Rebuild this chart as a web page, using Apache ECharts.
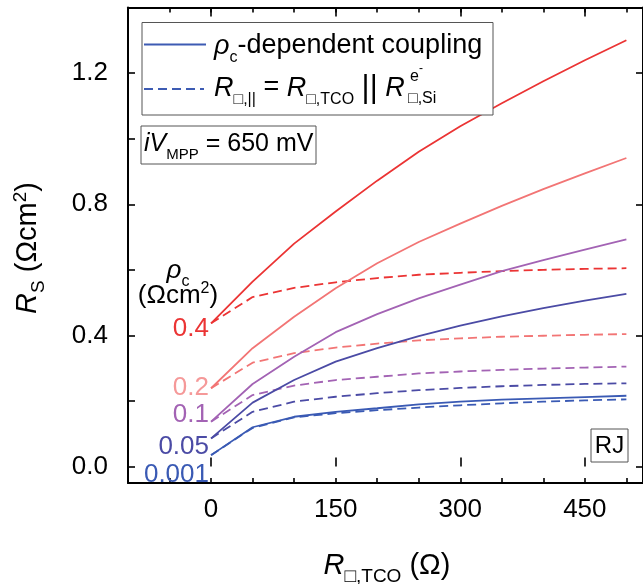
<!DOCTYPE html>
<html>
<head>
<meta charset="utf-8">
<script src="https://cdn.jsdelivr.net/npm/echarts@6/dist/echarts.min.js"></script>
<style>
  html, body { margin: 0; padding: 0; background: #fff; }
  #chart { width: 643px; height: 584px; }
</style>
</head>
<body>
<div id="chart"></div>
<script>
// Sheet resistance of the TCO (Ω) at which the series resistance was evaluated
const sheetResistance = [0, 50, 100, 150, 200, 250, 300, 350, 400, 450, 500];

// Contact resistivities ρc (Ωcm²) and their colours
const rhoLabels = ['0.4', '0.2', '0.1', '0.05', '0.001'];
const rhoColors = ['#eb3434', '#f27575', '#a363b4', '#4b4ba5', '#3a5ab4'];
const rhoLabelColors = ['#eb3434', '#f59999', '#a363b4', '#4b4ba5', '#3a5ab4'];

// R_S (Ωcm²) with ρc-dependent coupling (solid lines)
const coupling04 = [0.437, 0.564, 0.680, 0.778, 0.872, 0.960, 1.038, 1.108, 1.175, 1.239, 1.300];
const coupling02 = [0.239, 0.361, 0.457, 0.544, 0.620, 0.685, 0.741, 0.795, 0.846, 0.894, 0.941];
const coupling01 = [0.137, 0.252, 0.335, 0.410, 0.465, 0.513, 0.555, 0.596, 0.630, 0.662, 0.693];
const coupling005 = [0.086, 0.195, 0.264, 0.320, 0.361, 0.398, 0.430, 0.458, 0.483, 0.506, 0.527];
const coupling0001 = [0.035, 0.120, 0.152, 0.167, 0.178, 0.190, 0.198, 0.204, 0.208, 0.212, 0.216];

// R_S (Ωcm²) with the parallel sheet resistance model (dashed lines)
const parallel04 = [0.437, 0.517, 0.545, 0.562, 0.575, 0.585, 0.591, 0.596, 0.600, 0.603, 0.605];
const parallel02 = [0.239, 0.317, 0.346, 0.363, 0.375, 0.385, 0.391, 0.396, 0.399, 0.402, 0.404];
const parallel01 = [0.137, 0.218, 0.247, 0.264, 0.274, 0.284, 0.290, 0.295, 0.299, 0.302, 0.305];
const parallel005 = [0.086, 0.167, 0.198, 0.213, 0.224, 0.233, 0.240, 0.245, 0.249, 0.252, 0.254];
const parallel0001 = [0.035, 0.118, 0.150, 0.163, 0.172, 0.180, 0.187, 0.193, 0.198, 0.202, 0.205];

// Axis ticks and labels
const xLabelValues = [0, 150, 300, 450];
const xMinorTicks = [-100, -50, 0, 50, 100, 150, 200, 250, 300, 350, 400, 450, 500];
const yLabelValues = [0, 0.4, 0.8, 1.2];
const yTickValues = [0, 0.2, 0.4, 0.6, 0.8, 1.0, 1.2];

const FONT = '"Liberation Sans", Arial, Helvetica, sans-serif';
const X_MIN = -100, X_MAX = 520, Y_MIN = -0.05, Y_MAX = 1.4;

const couplingSets = [coupling04, coupling02, coupling01, coupling005, coupling0001];
const parallelSets = [parallel04, parallel02, parallel01, parallel005, parallel0001];

const pairs = arr => sheetResistance.map((x, i) => [x, arr[i]]);

const series = [];
rhoLabels.forEach((rho, k) => {
  series.push({
    name: 'coupling ' + rho, type: 'line', xAxisIndex: 0, yAxisIndex: 0,
    data: pairs(couplingSets[k]), symbol: 'none', smooth: false, z: 3,
    lineStyle: { color: rhoColors[k], width: 1.8, type: 'solid' }
  });
  series.push({
    name: 'parallel ' + rho, type: 'line', xAxisIndex: 0, yAxisIndex: 0,
    data: pairs(parallelSets[k]), symbol: 'none', smooth: false, z: 3,
    lineStyle: { color: rhoColors[k], width: 1.8, type: [9, 5] }
  });
});

const frameLine = { show: true, onZero: false, lineStyle: { color: '#000', width: 2 } };
const tickStyle = { color: '#000', width: 1.6 };

const baseX = (extra) => Object.assign({
  type: 'value', min: X_MIN, max: X_MAX, splitLine: { show: false }
}, extra);
const baseY = (extra) => Object.assign({
  type: 'value', min: Y_MIN, max: Y_MAX, splitLine: { show: false }
}, extra);

// rich text styles: body text, italic symbols, subscripts and superscripts
function richSet(size, subSize) {
  return {
    n: { fontFamily: FONT, fontSize: size, color: '#000', lineHeight: size + 4, verticalAlign: 'middle' },
    i: { fontFamily: FONT, fontSize: size, color: '#000', fontStyle: 'italic', lineHeight: size + 4, verticalAlign: 'middle' },
    sub: { fontFamily: FONT, fontSize: subSize, color: '#000', lineHeight: subSize, verticalAlign: 'bottom', padding: [0, 0, -4, 0] },
    sup: { fontFamily: FONT, fontSize: subSize, color: '#000', lineHeight: subSize, verticalAlign: 'top' },
    bar: { fontFamily: FONT, fontSize: size + 4, color: '#000', lineHeight: size + 4, verticalAlign: 'middle' }
  };
}
const richBody = richSet(26, 16);
const richBox = richSet(25, 15);
const richLegend = richSet(27, 16);
const richTitle = richSet(29, 19);

const graphics = [
  // y axis title
  { type: 'text', x: 28, y: 248, rotation: Math.PI / 2, z: 10,
    style: { text: '{i|R}{sub|S}{n| (Ωcm}{sup|2}{n|)}', rich: richTitle, align: 'center', verticalAlign: 'middle' } },
  // x axis title
  { type: 'text', x: 387, y: 566, z: 10,
    style: { text: '{i|R}{sub|□,TCO}{n| (Ω)}', rich: richTitle, align: 'center', verticalAlign: 'middle' } },
  // legend box
  { type: 'rect', shape: { x: 142, y: 22.5, width: 351, height: 92.5 }, z: 10,
    style: { fill: '#fff', stroke: '#555', lineWidth: 1 } },
  { type: 'line', shape: { x1: 144, y1: 44.5, x2: 206, y2: 44.5 }, z: 11,
    style: { stroke: '#3d5bb3', lineWidth: 1.8 } },
  { type: 'line', shape: { x1: 144, y1: 89, x2: 204, y2: 89 }, z: 11,
    style: { stroke: '#3d5bb3', lineWidth: 1.8, lineDash: [9, 5] } },
  { type: 'text', x: 214, y: 46, z: 11,
    style: { text: '{i|ρ}{sub|c}{n|-dependent coupling}', rich: richLegend, align: 'left', verticalAlign: 'middle' } },
  { type: 'text', x: 214, y: 88, z: 11,
    style: { text: '{i|R}{sub|□,||}{n| = }{i|R}{sub|□,TCO}{n| }{bar|||}{n| }{i|R}', rich: richLegend, align: 'left', verticalAlign: 'middle' } },
  { type: 'text', x: 410, y: 77, z: 11,
    style: { text: 'e', fontFamily: FONT, fontSize: 16, fill: '#000', align: 'left', verticalAlign: 'middle' } },
  { type: 'text', x: 419, y: 69, z: 11,
    style: { text: '-', fontFamily: FONT, fontSize: 12, fill: '#000', align: 'left', verticalAlign: 'middle' } },
  { type: 'text', x: 408, y: 99, z: 11,
    style: { text: '□,Si', fontFamily: FONT, fontSize: 16, fill: '#000', align: 'left', verticalAlign: 'middle' } },
  // operating point box
  { type: 'rect', shape: { x: 141, y: 126, width: 175, height: 38 }, z: 10,
    style: { fill: '#fff', stroke: '#555', lineWidth: 1 } },
  { type: 'text', x: 144, y: 144, z: 11,
    style: { text: '{i|iV}{sub|MPP}{n| = 650 mV}', rich: richBox, align: 'left', verticalAlign: 'middle' } },
  // RJ box
  { type: 'rect', shape: { x: 591, y: 429, width: 37, height: 33 }, z: 10,
    style: { fill: '#fff', stroke: '#555', lineWidth: 1 } },
  { type: 'text', x: 609.5, y: 446, z: 11,
    style: { text: 'RJ', fontFamily: FONT, fontSize: 24, fill: '#000', align: 'center', verticalAlign: 'middle' } },
  // ρc heading
  { type: 'text', x: 178, y: 271, z: 11,
    style: { text: '{i|ρ}{sub|c}', rich: richBody, align: 'center', verticalAlign: 'middle' } },
  { type: 'text', x: 178, y: 296, z: 11,
    style: { text: '{n|(Ωcm}{sup|2}{n|)}', rich: richBody, align: 'center', verticalAlign: 'middle' } }
];

// ρc value labels beside the curve starts
const rhoLabelY = [329, 388, 415, 447, 475];
rhoLabels.forEach((rho, k) => {
  graphics.push({
    type: 'text', x: 209, y: rhoLabelY[k], z: 11,
    style: { text: rho, fontFamily: FONT, fontSize: 26, fill: rhoLabelColors[k], align: 'right', verticalAlign: 'middle' }
  });
});

const option = {
  animation: false,
  backgroundColor: '#fff',
  grid: [
    { left: 128, top: 7.5, width: 516, height: 475.5, containLabel: false },
    { left: 128, top: 7.5, width: 516, height: 475.5, containLabel: false }
  ],
  xAxis: [
    baseX({ gridIndex: 0, position: 'bottom', axisLine: frameLine,
      axisTick: { show: true, inside: true, length: 5, customValues: xMinorTicks, lineStyle: tickStyle },
      axisLabel: { show: true, customValues: xLabelValues, fontFamily: FONT, fontSize: 26, color: '#000', margin: 14 } }),
    baseX({ gridIndex: 0, position: 'top', axisLine: frameLine,
      axisTick: { show: true, inside: true, length: 5, customValues: xMinorTicks, lineStyle: tickStyle },
      axisLabel: { show: false } }),
    baseX({ gridIndex: 1, position: 'bottom', axisLine: { show: false },
      axisTick: { show: true, inside: true, length: 9, customValues: xLabelValues, lineStyle: tickStyle },
      axisLabel: { show: false } }),
    baseX({ gridIndex: 1, position: 'top', axisLine: { show: false },
      axisTick: { show: true, inside: true, length: 9, customValues: xLabelValues, lineStyle: tickStyle },
      axisLabel: { show: false } })
  ],
  yAxis: [
    baseY({ gridIndex: 0, position: 'left', axisLine: frameLine,
      axisTick: { show: true, inside: true, length: 7, customValues: yTickValues, lineStyle: tickStyle },
      axisLabel: { show: true, customValues: yLabelValues, formatter: v => v.toFixed(1),
        fontFamily: FONT, fontSize: 26, color: '#000', margin: 20 } }),
    baseY({ gridIndex: 0, position: 'right', axisLine: frameLine,
      axisTick: { show: true, inside: true, length: 7, customValues: yLabelValues, lineStyle: tickStyle },
      axisLabel: { show: false } }),
    baseY({ gridIndex: 1, show: false })
  ],
  series: series,
  graphic: graphics
};

const chart = echarts.init(document.getElementById('chart'), null, { renderer: 'canvas' });
chart.setOption(option);
</script>
</body>
</html>
